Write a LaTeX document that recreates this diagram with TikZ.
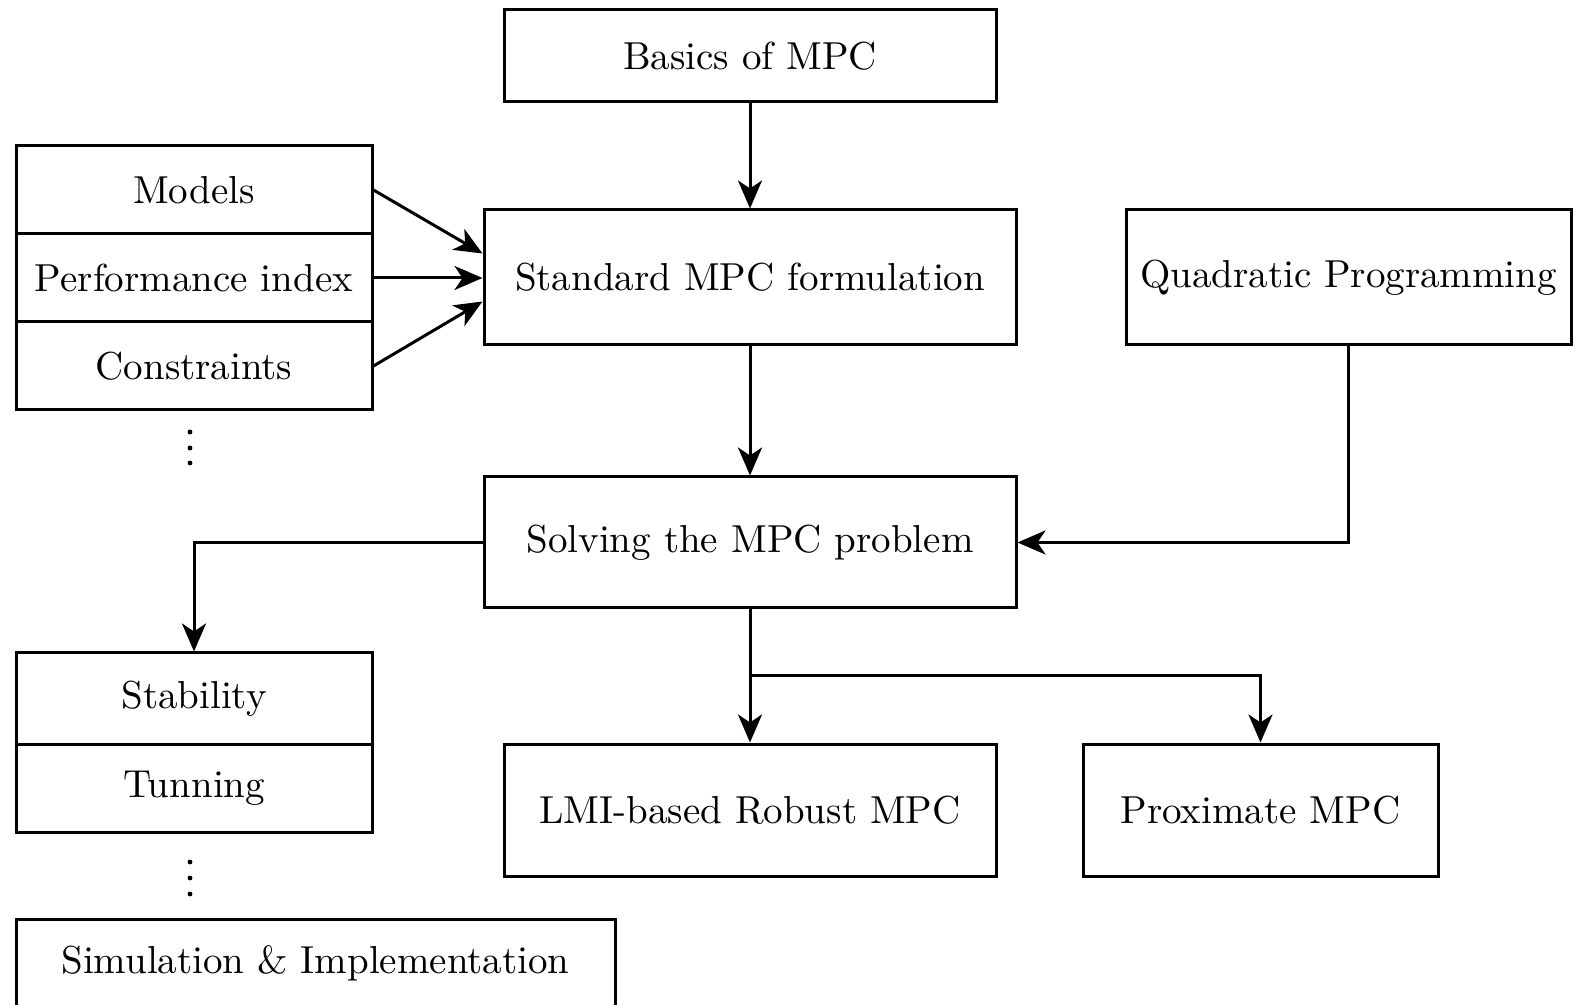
\documentclass[tikz,border=0pt]{standalone}
\usetikzlibrary{arrows.meta}
\begin{document}
\begin{tikzpicture}[x=0.25pt,y=-0.25pt,
  box/.style={draw,line width=0.75pt,inner sep=0pt,align=center,
    font=\fontsize{9.75}{12}\selectfont},
  link/.style={line width=0.75pt,-{Stealth[length=7pt,width=6pt,inset=2pt]}},
  dot/.style={fill,circle,inner sep=0pt,minimum size=1.2pt}]
\useasboundingbox (0,0) rectangle (1577,1005);

% main chain
\node[box,minimum width=492*0.25pt,minimum height=92*0.25pt] (basics) at (750,56) {Basics of MPC};
\node[box,minimum width=532*0.25pt,minimum height=135*0.25pt] (std) at (750,277.5) {Standard MPC formulation};
\node[box,minimum width=445*0.25pt,minimum height=135*0.25pt] (qp) at (1348.5,277.5) {Quadratic Programming};
\node[box,minimum width=532*0.25pt,minimum height=131*0.25pt] (solve) at (750,542.5) {Solving the MPC problem};
\node[box,minimum width=492*0.25pt,minimum height=132*0.25pt] (lmi) at (750,810) {LMI-based Robust MPC};
\node[box,minimum width=355*0.25pt,minimum height=132*0.25pt] (prox) at (1260.5,810) {Proximate MPC};

% ingredients of the formulation
\node[box,minimum width=356*0.25pt,minimum height=88*0.25pt] (models) at (194,190) {Models};
\node[box,minimum width=356*0.25pt,minimum height=88*0.25pt] (perf) at (194,278) {Performance index};
\node[box,minimum width=356*0.25pt,minimum height=88*0.25pt] (cons) at (194,366) {Constraints};
% vertical ellipsis below the list
\foreach \k/\yy in {1/432,2/448,3/463} \node[dot] (dA\k) at (190,\yy) {};

% analysis topics
\node[box,minimum width=356*0.25pt,minimum height=91*0.25pt] (stab) at (194,698.5) {Stability};
\node[box,minimum width=356*0.25pt,minimum height=88*0.25pt] (tun) at (194,788) {Tunning};
\foreach \k/\yy in {1/862,2/878,3/894} \node[dot] (dB\k) at (190,\yy) {};
\node[box,minimum width=599*0.25pt,minimum height=88*0.25pt] (sim) at (315.5,963) {Simulation \& Implementation};

% connectors
\draw[link] (basics.south) -- (std.north);
\draw[link] (models.east) -- ([yshift=6pt]std.west);
\draw[link] (perf.east) -- (perf.east -| std.west);
\draw[link] (cons.east) -- ([yshift=-6pt]std.west);
\draw[link] (std.south) -- (solve.north);
\draw[link] (qp.south) |- (solve.east);
\draw[link] (solve.west) -| (stab.north);
\draw[link] (solve.south) -- (lmi.north);
\coordinate (split) at (750,676);
\draw[link] (split) -| (prox.north);
\end{tikzpicture}
\end{document}
